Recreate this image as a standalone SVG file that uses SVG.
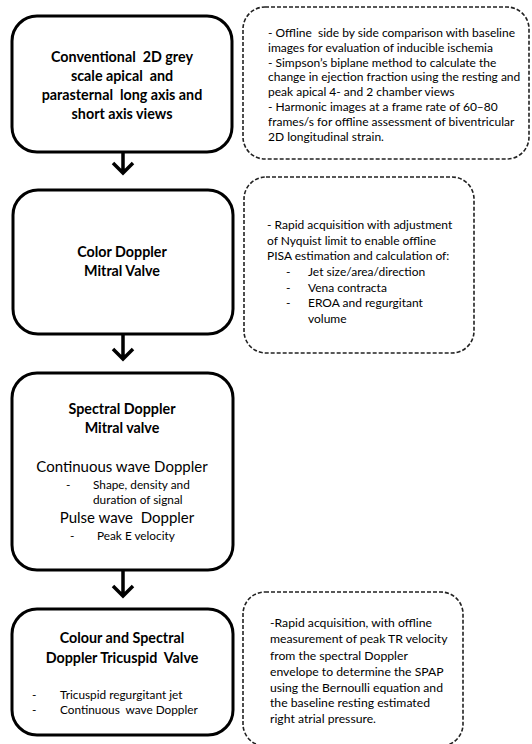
<svg xmlns="http://www.w3.org/2000/svg" width="532" height="744" viewBox="0 0 532 744">
<style>
.box{fill:#fff;stroke:#000;stroke-width:3}
.note{fill:#fff;stroke:#222;stroke-width:1.6;stroke-dasharray:4 2}
.t{font-family:Lato,"Liberation Sans",sans-serif;fill:#000;white-space:pre}
.h{font-weight:bold;font-size:14.3px;text-anchor:middle}
.n{font-size:12px}
.n2{font-size:12px}
.n3{font-size:12.2px}
.m{font-size:15px;text-anchor:middle}
.s{font-size:11.8px}
.conn{stroke:#000;stroke-width:3.5;fill:none}
</style>
<rect width="532" height="744" fill="#fff"/>
<g id="node-2d">
<rect class="box" x="12" y="16" width="220" height="136" rx="25"/>
<text class="t h" xml:space="preserve"><tspan x="122" y="62">Conventional  2D grey</tspan><tspan x="122" y="81">scale apical  and</tspan><tspan x="122" y="100">parasternal  long axis and</tspan><tspan x="122" y="119">short axis views</tspan></text>
</g>
<g id="note-2d">
<rect class="note" x="243" y="7" width="286" height="152" rx="22"/>
<text class="t n" xml:space="preserve"><tspan x="268" y="37">- Offline  side by side comparison with baseline</tspan><tspan x="268" y="52">images for evaluation of inducible ischemia</tspan><tspan x="268" y="67">- Simpson’s biplane method to calculate the</tspan><tspan x="268" y="81">change in ejection fraction using the resting and</tspan><tspan x="268" y="96">peak apical 4- and 2 chamber views</tspan><tspan x="268" y="111">- Harmonic images at a frame rate of 60–80</tspan><tspan x="268" y="126">frames/s for offline assessment of biventricular</tspan><tspan x="268" y="141">2D longitudinal strain.</tspan></text>
</g>
<g id="node-color">
<rect class="box" x="13" y="190" width="220" height="144" rx="25"/>
<text class="t h"><tspan x="122" y="257">Color Doppler</tspan><tspan x="122" y="276">Mitral Valve</tspan></text>
</g>
<g id="note-color">
<rect class="note" x="244" y="177" width="230" height="176" rx="22"/>
<text class="t n2"><tspan x="267" y="229">- Rapid acquisition with adjustment</tspan><tspan x="267" y="245">of Nyquist limit to enable offline</tspan><tspan x="267" y="260">PISA estimation and calculation of:</tspan></text>
<text class="t n2"><tspan x="286" y="276">-</tspan><tspan x="308" y="276">Jet size/area/direction</tspan><tspan x="286" y="292">-</tspan><tspan x="308" y="292">Vena contracta</tspan><tspan x="286" y="307">-</tspan><tspan x="308" y="307">EROA and regurgitant</tspan><tspan x="308" y="323">volume</tspan></text>
</g>
<g id="node-spectral">
<rect class="box" x="12" y="373" width="221" height="197" rx="25"/>
<text class="t h"><tspan x="122" y="414">Spectral Doppler</tspan><tspan x="122" y="433">Mitral valve</tspan></text>
<text class="t m" xml:space="preserve"><tspan x="122" y="472">Continuous wave Doppler</tspan><tspan x="127" y="523">Pulse wave  Doppler</tspan></text>
<text class="t s"><tspan x="66" y="489">-</tspan><tspan x="93" y="489">Shape, density and</tspan><tspan x="93" y="504">duration of signal</tspan><tspan x="70" y="540">-</tspan><tspan x="97" y="540">Peak E velocity</tspan></text>
</g>
<g id="node-tricuspid">
<rect class="box" x="12" y="609" width="221" height="126" rx="25"/>
<text class="t h" xml:space="preserve"><tspan x="122" y="643">Colour and Spectral</tspan><tspan x="122" y="663">Doppler Tricuspid  Valve</tspan></text>
<text class="t s" xml:space="preserve"><tspan x="32" y="699">-</tspan><tspan x="60" y="699">Tricuspid regurgitant jet</tspan><tspan x="32" y="714">-</tspan><tspan x="60" y="714">Continuous  wave Doppler</tspan></text>
</g>
<g id="note-tricuspid">
<rect class="note" x="243" y="592" width="220" height="154" rx="22"/>
<text class="t n3"><tspan x="270" y="627">-Rapid acquisition, with offline</tspan><tspan x="270" y="643">measurement of peak TR velocity</tspan><tspan x="270" y="660">from the spectral Doppler</tspan><tspan x="270" y="676">envelope to determine the SPAP</tspan><tspan x="270" y="692">using the Bernoulli equation and</tspan><tspan x="270" y="707">the baseline resting estimated</tspan><tspan x="270" y="723">right atrial pressure.</tspan></text>
</g>
<g id="connectors">
<path class="conn" d="M123 152V173M113 163L123 173L133 163"/>
<path class="conn" d="M123 334V359M113 349L123 359L133 349"/>
<path class="conn" d="M123 570V596M113 586L123 596L133 586"/>
</g>
</svg>
